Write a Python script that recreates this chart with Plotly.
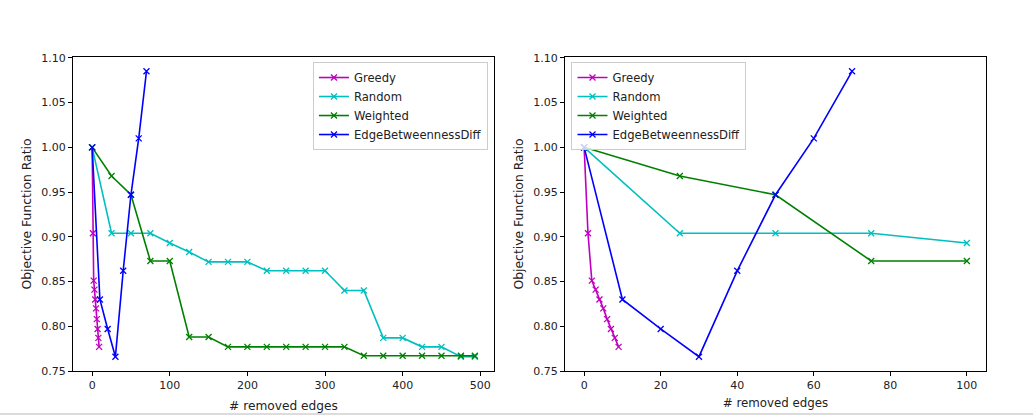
import plotly.graph_objects as go
from plotly.subplots import make_subplots

greedy_x = [0, 1, 2, 3, 4, 5, 6, 7, 8, 9]
greedy_y = [1.0, 0.904, 0.851, 0.841, 0.830, 0.820, 0.808, 0.797, 0.787, 0.777]

random_x = [0, 25, 50, 75, 100, 125, 150, 175, 200, 225, 250, 275, 300, 325, 350, 375, 400, 425, 450, 475, 493]
random_y = [1.0, 0.904, 0.904, 0.904, 0.893, 0.883, 0.872, 0.872, 0.872, 0.862, 0.862, 0.862, 0.862,
            0.840, 0.840, 0.787, 0.787, 0.777, 0.777, 0.766, 0.766]

weighted_x = [0, 25, 50, 75, 100, 125, 150, 175, 200, 225, 250, 275, 300, 325, 350, 375, 400, 425, 450, 475, 493]
weighted_y = [1.0, 0.968, 0.947, 0.873, 0.873, 0.788, 0.788, 0.777, 0.777, 0.777, 0.777, 0.777, 0.777,
              0.777, 0.767, 0.767, 0.767, 0.767, 0.767, 0.767, 0.767]

ebd_x = [0, 10, 20, 30, 40, 50, 60, 70]
ebd_y = [1.0, 0.830, 0.797, 0.766, 0.862, 0.947, 1.010, 1.085]

series = [
    ("Greedy", greedy_x, greedy_y, "#bf00bf"),
    ("Random", random_x, random_y, "#00bfbf"),
    ("Weighted", weighted_x, weighted_y, "#008000"),
    ("EdgeBetweennessDiff", ebd_x, ebd_y, "#0000ff"),
]

RIGHT_MAX = 100
FONT = "DejaVu Sans"
TXT = "#222222"

fig = make_subplots(rows=1, cols=2, horizontal_spacing=0.0778)

for name, xs, ys, col in series:
    for c, leg in ((1, "legend"), (2, "legend2")):
        if c == 2:
            pts = [(x, y) for x, y in zip(xs, ys) if x <= RIGHT_MAX]
            px = [p[0] for p in pts]
            py = [p[1] for p in pts]
        else:
            px, py = xs, ys
        fig.add_trace(go.Scatter(
            x=px, y=py, name=name, mode="lines+markers",
            line=dict(color=col, width=1.6),
            marker=dict(symbol="x-thin", size=6, line=dict(color=col, width=1.3)),
            legend=leg, showlegend=True,
        ), row=1, col=c)

axis_common = dict(
    showline=True, linecolor="black", linewidth=1, mirror=True,
    ticks="outside", ticklen=4, tickcolor="black", tickwidth=1,
    showgrid=False, zeroline=False, automargin=False,
    tickfont=dict(family=FONT, size=11, color=TXT),
)

fig.update_xaxes(**axis_common)
fig.update_yaxes(**axis_common)

fig.update_xaxes(range=[-24.65, 517.65], tickvals=[0, 100, 200, 300, 400, 500],
                 domain=[0, 0.4611],
                 title=dict(text="# removed edges", font=dict(family=FONT, size=12.2, color=TXT), standoff=10),
                 row=1, col=1)
fig.update_xaxes(range=[-5, 105], tickvals=[0, 20, 40, 60, 80, 100],
                 domain=[0.5389, 1.0],
                 title=dict(text="# removed edges", font=dict(family=FONT, size=11.8, color=TXT), standoff=7),
                 row=1, col=2)

yt = [0.75, 0.80, 0.85, 0.90, 0.95, 1.00, 1.05, 1.10]
ytt = ["0.75", "0.80", "0.85", "0.90", "0.95", "1.00", "1.05", "1.10"]
for c in (1, 2):
    fig.update_yaxes(range=[0.750, 1.101], tickvals=yt, ticktext=ytt,
                     title=dict(text="Objective Function Ratio",
                                font=dict(family=FONT, size=12.4, color=TXT), standoff=6),
                     row=1, col=c)

legend_common = dict(
    bgcolor="rgba(255,255,255,0.8)", bordercolor="#cccccc", borderwidth=1,
    font=dict(family=FONT, size=11.6, color=TXT), yanchor="top", y=0.984,
    tracegroupgap=0,
)

fig.update_layout(
    width=1033, height=417,
    margin=dict(l=73, r=47, t=57, b=46),
    paper_bgcolor="white", plot_bgcolor="white",
    font=dict(family=FONT, size=11, color=TXT),
    legend=dict(x=0.4545, xanchor="right", **legend_common),
    legend2=dict(x=0.546, xanchor="left", **legend_common),
    shapes=[dict(type="line", xref="paper", yref="paper",
                 x0=-0.08, x1=1.06, y0=-0.137, y1=-0.137,
                 line=dict(color="#d0d0d0", width=1.5))],
)

fig.write_html(
    "out.html",
    config={"displayModeBar": False},
    post_script="document.body.style.margin='0';document.body.style.overflow='hidden';",
)
